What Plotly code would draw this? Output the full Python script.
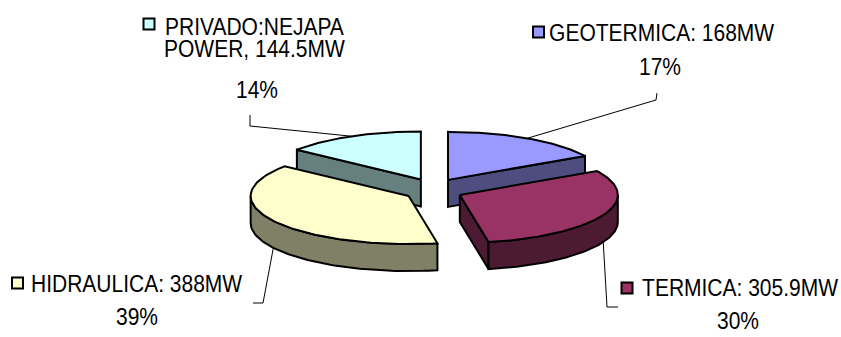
import math
import plotly.graph_objects as go

# ---- data ----
categories = ["GEOTERMICA", "TERMICA", "HIDRAULICA", "PRIVADO:NEJAPA POWER"]
values_mw = [168, 305.9, 388, 144.5]
value_text = ["168MW", "305.9MW", "388MW", "144.5MW"]
pct_labels = ["17%", "30%", "39%", "14%"]

# ---- styles ----
top_colors = ["#9999FF", "#993366", "#FFFFCC", "#CCFFFF"]
side_colors = ["#4D4D80", "#4D1A33", "#808066", "#668080"]

W, H = 841, 337
CX, CY = 433.5, 190.0      # pie centre (screen px)
RX, RY = 158.0, 48.0       # ellipse radii of the top face
DEPTH = 27.0               # thickness
EX, EY = 29.0, 11.7        # explosion offsets
FONT = dict(family="Liberation Sans, Arial, sans-serif", size=21, color="black")
TEXT_VSTRETCH = 1.13       # reference text is slightly taller than Arial
LINE_GAP_PX = 22.0         # spacing of wrapped label lines

total = sum(values_mw)
fracs = [v / total for v in values_mw]

fig = go.Figure()


def pt(ox, oy, ang, r=1.0, dz=0.0):
    return (CX + ox + r * RX * math.sin(ang), CY + oy - r * RY * math.cos(ang) + dz)


def add_poly(pts, fill):
    xs = [p[0] for p in pts] + [pts[0][0]]
    ys = [p[1] for p in pts] + [pts[0][1]]
    fig.add_trace(go.Scatter(x=xs, y=ys, mode="lines", fill="toself", fillcolor=fill,
                             line=dict(color="black", width=2), hoverinfo="skip",
                             showlegend=False))


slices = []
start = 0.0
for i, f in enumerate(fracs):
    a1 = start * 2 * math.pi
    a2 = (start + f) * 2 * math.pi
    mid = (a1 + a2) / 2
    ox = EX * math.sin(mid)
    oy = -EY * math.cos(mid)
    slices.append((i, a1, a2, mid, ox, oy))
    start += f

# painter's order: back slices first
order = sorted(slices, key=lambda s: s[5])
rim_points = {}
for (i, a1, a2, mid, ox, oy) in order:
    # radial faces
    for ang, normal in ((a1, a1 - math.pi / 2), (a2, a2 + math.pi / 2)):
        if -math.cos(normal) > 0.01:
            c_top = (CX + ox, CY + oy)
            c_bot = (CX + ox, CY + oy + DEPTH)
            add_poly([c_top, pt(ox, oy, ang), pt(ox, oy, ang, dz=DEPTH), c_bot], side_colors[i])
    # outer wall (front-facing part)
    w1 = max(a1, math.pi / 2)
    w2 = min(a2, 3 * math.pi / 2)
    if w2 > w1:
        n = 60
        angs = [w1 + (w2 - w1) * k / n for k in range(n + 1)]
        top = [pt(ox, oy, a) for a in angs]
        bot = [pt(ox, oy, a, dz=DEPTH) for a in reversed(angs)]
        add_poly(top + bot, side_colors[i])
    # top face
    n = 80
    angs = [a1 + (a2 - a1) * k / n for k in range(n + 1)]
    add_poly([(CX + ox, CY + oy)] + [pt(ox, oy, a) for a in angs], top_colors[i])
    # leader anchor on rim
    front = math.cos(mid) < 0
    rim_points[i] = pt(ox, oy, mid, dz=DEPTH if front else 0.0)

# ---- labels ----
# each line: (text, x, y, yanchor)
label_layout = {
    0: dict(lines=[(f"{categories[0]}: {value_text[0]}", 661, 32, "middle"),
                   (pct_labels[0], 660, 66, "middle")],
            key=(538.5, 32), elbow=[(657, 93), (656, 100)]),
    1: dict(lines=[(f"{categories[1]}: {value_text[1]}", 740, 287.5, "middle"),
                   (pct_labels[1], 738, 320, "middle")],
            key=(627, 288), elbow=[(618, 307), (607, 307)]),
    2: dict(lines=[(f"{categories[2]}: {value_text[2]}", 136, 283, "middle"),
                   (pct_labels[2], 137, 316.5, "middle")],
            key=(17.5, 283), elbow=[(253, 303), (263, 303)]),
    3: dict(lines=[("PRIVADO:NEJAPA<br>POWER, " + value_text[3], 254, 14, "top"),
                   (pct_labels[3], 257, 89.5, "middle")],
            key=(149, 24), elbow=[(250, 115), (250, 126)]),
}

for i, lay in label_layout.items():
    for (txt, x, y, ya) in lay["lines"]:
        fig.add_annotation(x=x, y=y, text=txt, showarrow=False, xanchor="center",
                           yanchor=ya, font=FONT)
    fig.add_trace(go.Scatter(x=[lay["key"][0]], y=[lay["key"][1]], mode="markers",
                             marker=dict(symbol="square", size=11, color=top_colors[i],
                                         line=dict(color="black", width=2)),
                             hoverinfo="skip", showlegend=False))
    pts = lay["elbow"] + [rim_points[i]]
    fig.add_trace(go.Scatter(x=[p[0] for p in pts], y=[p[1] for p in pts], mode="lines",
                             line=dict(color="black", width=1), hoverinfo="skip",
                             showlegend=False))

fig.update_layout(
    width=W, height=H, margin=dict(l=0, r=0, t=0, b=0),
    paper_bgcolor="white", plot_bgcolor="white", showlegend=False,
    xaxis=dict(range=[0, W], visible=False, fixedrange=True),
    yaxis=dict(range=[H, 0], visible=False, fixedrange=True),
)

line_em = LINE_GAP_PX / FONT["size"] / TEXT_VSTRETCH
post_js = """
try {
  var gd = document.getElementById('{plot_id}');
  gd.querySelectorAll('text.annotation-text').forEach(function(t) {
    var lines = t.querySelectorAll('tspan.line');
    lines.forEach(function(ln, k) { ln.setAttribute('dy', (k * %f) + 'em'); });
    var b = t.getBBox();
    var cy = b.y + b.height / 2;
    var old = t.getAttribute('transform') || '';
    t.setAttribute('transform', old + ' translate(0,' + cy + ') scale(1,%f) translate(0,' + (-cy) + ')');
  });
} catch (e) {}
""" % (line_em, TEXT_VSTRETCH)

fig.write_html("out.html", config={"displayModeBar": False}, post_script=post_js)
